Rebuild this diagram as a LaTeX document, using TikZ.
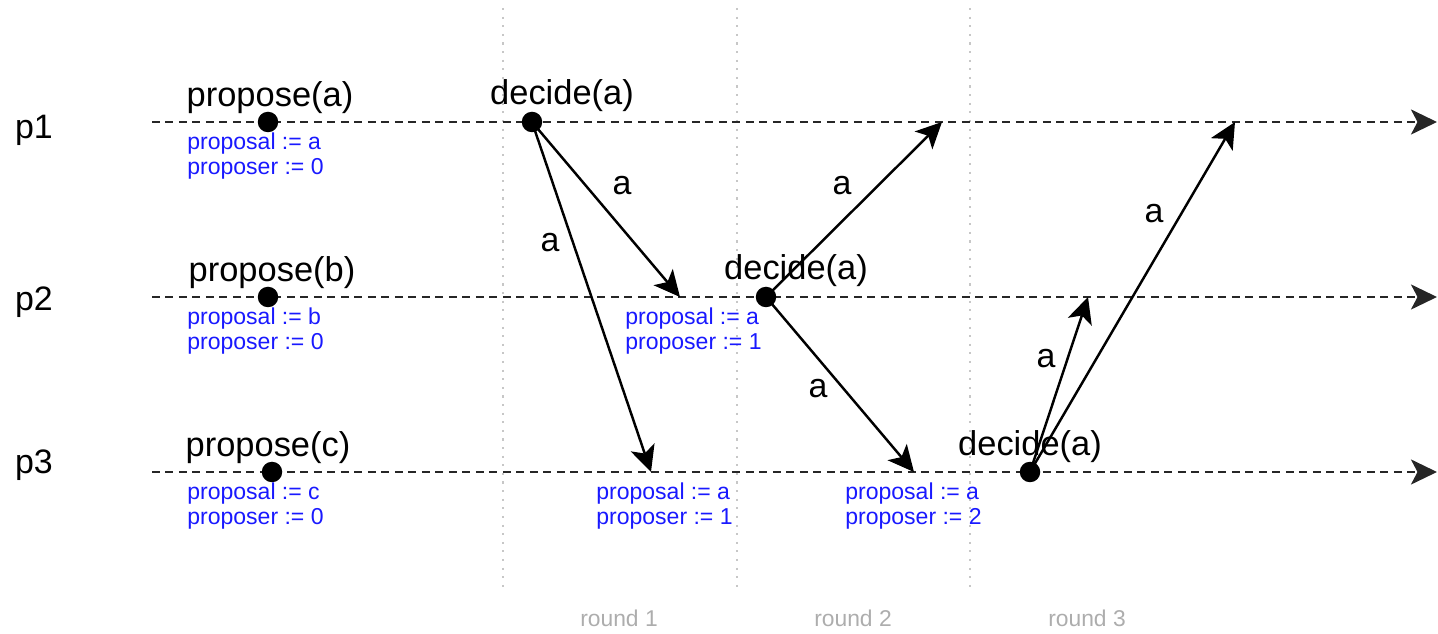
\documentclass[tikz,border=0pt]{standalone}
\usepackage{fontspec}
\setmainfont{Liberation Sans}
\usetikzlibrary{arrows.meta}

\begin{document}
\begin{tikzpicture}
    [
        x=0.02cm, y=-0.02cm,
        >={Stealth[length=0.52cm, width=0.5cm, inset=0.13cm]},
        timeline/.style={->, dash pattern=on 0.16cm off 0.11cm, line width=1.5pt, black!85},
        msg/.style={->, line width=1.4pt},
        dot/.style={circle, fill=black, inner sep=0pt, minimum size=0.41cm},
        proc/.style={font=\fontsize{19.3}{22}\selectfont, anchor=base},
        event/.style={font=\fontsize{19.6}{22}\selectfont, anchor=base},
        lbl/.style={font=\fontsize{19.3}{22}\selectfont, anchor=base},
        state/.style={font=\fontsize{13.1}{14.3}\selectfont, text=blue!90, align=left, anchor=north west, inner sep=0pt},
        roundline/.style={line width=1.3pt, black!22, dash pattern=on 1.2pt off 3.7pt},
        roundlbl/.style={font=\fontsize{13}{15}\selectfont, text=black!32, anchor=base},
    ]
    \useasboundingbox (0,0) rectangle (1438,634);

    % rounds
    \coordinate (r1t) at (503,8);   \coordinate (r1b) at (503,590);
    \coordinate (r2t) at (737,8);   \coordinate (r2b) at (737,590);
    \coordinate (r3t) at (970,8);   \coordinate (r3b) at (970,590);
    \draw[roundline] (r1t) -- (r1b);
    \draw[roundline] (r2t) -- (r2b);
    \draw[roundline] (r3t) -- (r3b);
    \node (rd1) at (619,627) [roundlbl] {round 1};
    \node (rd2) at (853,627) [roundlbl] {round 2};
    \node (rd3) at (1087,627) [roundlbl] {round 3};

    % processes
    \node (p1) at (34,139) [proc] {p1};
    \node (p2) at (34,311) [proc] {p2};
    \node (p3) at (34,474) [proc] {p3};
    \coordinate (s1) at (152,122);  \coordinate (e1) at (1437,122);
    \coordinate (s2) at (152,297);  \coordinate (e2) at (1437,297);
    \coordinate (s3) at (152,472);  \coordinate (e3) at (1437,472);
    \draw[timeline] (s1) -- (e1);
    \draw[timeline] (s2) -- (e2);
    \draw[timeline] (s3) -- (e3);

    % propose
    \node (pr1) at (268,122) [dot] {};
    \node (pr2) at (268,297) [dot] {};
    \node (pr3) at (272,472) [dot] {};
    \node (tpr1) at (270,107) [event] {propose(a)};
    \node (tpr2) at (272,282) [event] {propose(b)};
    \node (tpr3) at (268,457) [event] {propose(c)};
    \node (st1) at (187,132) [state] {proposal := a\\proposer := 0};
    \node (st2) at (187,307) [state] {proposal := b\\proposer := 0};
    \node (st3) at (187,482) [state] {proposal := c\\proposer := 0};

    % decide
    \node (dc1) at (532,122) [dot] {};
    \node (dc2) at (766,297) [dot] {};
    \node (dc3) at (1030,472) [dot] {};
    \node (tdc1) at (562,105) [event] {decide(a)};
    \node (tdc2) at (796,280) [event] {decide(a)};
    \node (tdc3) at (1030,456) [event] {decide(a)};

    % receive points
    \coordinate (m12) at (680,297);
    \coordinate (m13) at (651,472);
    \coordinate (m21) at (942,122);
    \coordinate (m23) at (914,472);
    \coordinate (m32) at (1088,297);
    \coordinate (m31) at (1235,122);
    \node (st21) at (625,307) [state] {proposal := a\\proposer := 1};
    \node (st31) at (596,482) [state] {proposal := a\\proposer := 1};
    \node (st32) at (845,482) [state] {proposal := a\\proposer := 2};

    \path[msg]
    (dc1.center) edge (m12)
    (dc1.center) edge (m13)
    (dc2.center) edge (m21)
    (dc2.center) edge (m23)
    (dc3.center) edge (m32)
    (dc3.center) edge (m31);

    \node (a12) at (622,195) [lbl] {a};
    \node (a13) at (550,252) [lbl] {a};
    \node (a21) at (842,195) [lbl] {a};
    \node (a23) at (818,398) [lbl] {a};
    \node (a32) at (1046,368) [lbl] {a};
    \node (a31) at (1154,223) [lbl] {a};

\end{tikzpicture}
\end{document}
